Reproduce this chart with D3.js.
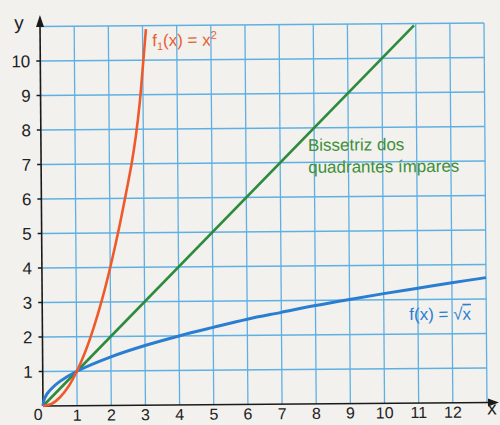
<!DOCTYPE html>
<html><head><meta charset="utf-8">
<script src="https://cdn.jsdelivr.net/npm/d3@7"></script>
<style>html,body{margin:0;padding:0;background:#f2f1ee;} svg{display:block;}</style>
</head><body>
<svg id="c" width="500" height="425"></svg>
<script>
// Data
const xTicks = [0,1,2,3,4,5,6,7,8,9,10,11,12];
const yTicks = [1,2,3,4,5,6,7,8,9,10];
const parabolaX = [0,0.25,0.5,0.75,1,1.25,1.5,1.75,2,2.25,2.5,2.65,2.78,2.9,3.0,3.1];
const parabolaY = [0,0.06,0.25,0.56,1,1.56,2.25,3.06,4,5.06,6.25,7.0,7.8,8.75,9.8,10.9];
const bisectX = [0,10.95];
const bisectY = [0,10.95];
const sqrtX = [0,0.03,0.12,0.25,0.5,1,2,3,4,5,6,7,8,9,10,11,12,13];
const sqrtY = [0,0.17,0.35,0.5,0.71,1,1.41,1.73,2,2.24,2.47,2.66,2.85,3.02,3.18,3.33,3.48,3.62];

const svg = d3.select('#c');
const x = d3.scaleLinear().domain([0,13]).range([43,487]);
const y = d3.scaleLinear().domain([0,11]).range([406,26.5]);
const g = svg.append('g').attr('transform','rotate(-0.45,43,406)');
const font = '"Liberation Sans", Arial, sans-serif';

// grid
const gridC = '#5fb0e2';
const gx = d3.range(1,14), gy = d3.range(1,12);
g.selectAll('.vg').data(gx).enter().append('line')
  .attr('x1',d=>x(d)).attr('x2',d=>x(d)).attr('y1',y(0)).attr('y2',y(11))
  .attr('stroke',gridC).attr('stroke-width',1.3);
g.selectAll('.hg').data(gy).enter().append('line')
  .attr('x1',x(0)).attr('x2',x(13)).attr('y1',d=>y(d)).attr('y2',d=>y(d))
  .attr('stroke',gridC).attr('stroke-width',1.3);

// axes
g.append('line').attr('x1',x(0)).attr('x2',492).attr('y1',y(0)).attr('y2',y(0)).attr('stroke','#1a1a1a').attr('stroke-width',1.6);
g.append('line').attr('x1',x(0)).attr('x2',x(0)).attr('y1',y(0)).attr('y2',22).attr('stroke','#1a1a1a').attr('stroke-width',1.6);
g.append('path').attr('d',`M499,${y(0)} L488,${y(0)-4} L488,${y(0)+4} Z`).attr('fill','#1a1a1a');
g.append('path').attr('d',`M${x(0)},15 L${x(0)-4},27 L${x(0)+4},27 Z`).attr('fill','#1a1a1a');

// ticks
g.selectAll('.yt').data(yTicks).enter().append('line')
  .attr('x1',x(0)-4).attr('x2',x(0)).attr('y1',d=>y(d)).attr('y2',d=>y(d)).attr('stroke','#1a1a1a').attr('stroke-width',1.4);
g.selectAll('.ytl').data(yTicks).enter().append('text')
  .attr('x',33).attr('y',d=>y(d)+6).attr('text-anchor','end')
  .attr('font-family',font).attr('font-size',17).attr('fill','#222').text(d=>d);
g.selectAll('.xtl').data(xTicks).enter().append('text')
  .attr('x',d=>d===0?x(0)-5:x(d)).attr('y',d=>d===0?420:421).attr('text-anchor','middle')
  .attr('font-family',font).attr('font-size',16).attr('fill','#222').text(d=>d);
g.append('text').attr('x',22).attr('y',29).attr('text-anchor','middle').attr('font-family',font).attr('font-size',19).attr('fill','#222').text('y');
g.append('text').attr('x',492).attr('y',418).attr('text-anchor','middle').attr('font-family',font).attr('font-size',19).attr('fill','#222').text('x');

// curves
const line = d3.line().x(d=>x(d[0])).y(d=>y(d[1])).curve(d3.curveCatmullRom);
svg.append('defs').append('clipPath').attr('id','cl').append('rect')
  .attr('x',x(0)-2).attr('y',y(11)).attr('width',x(13)-x(0)+4).attr('height',y(0)-y(11)+2);
const cg = g.append('g').attr('clip-path','url(#cl)');
cg.append('path').datum(bisectX.map((v,i)=>[v,bisectY[i]])).attr('d',line)
  .attr('fill','none').attr('stroke','#2e8a3c').attr('stroke-width',2.6);
cg.append('path').datum(sqrtX.map((v,i)=>[v,sqrtY[i]])).attr('d',line)
  .attr('fill','none').attr('stroke','#2a7ed2').attr('stroke-width',3);
cg.append('path').datum(parabolaX.map((v,i)=>[v,parabolaY[i]])).attr('d',line)
  .attr('fill','none').attr('stroke','#ee5a2c').attr('stroke-width',2.6);

// labels
const t1 = g.append('text').attr('x',155).attr('y',47).attr('font-family',font).attr('font-size',17).attr('fill','#e8602e');
t1.append('tspan').text('f');
t1.append('tspan').attr('font-size',11).attr('dy',4).text('1');
t1.append('tspan').attr('dy',-4).text('(x) = x');
t1.append('tspan').attr('font-size',11).attr('dy',-7).text('2');

g.append('text').attr('x',310).attr('y',153).attr('font-family',font).attr('font-size',17).attr('fill','#3f8f38').text('Bissetriz dos');
g.append('text').attr('x',310).attr('y',175).attr('font-family',font).attr('font-size',17).attr('fill','#3f8f38').text('quadrantes ímpares');

const t3 = g.append('text').attr('x',410).attr('y',323).attr('font-family',font).attr('font-size',17).attr('fill','#2a7ed2');
t3.append('tspan').text('f(x) = √');
t3.append('tspan').attr('text-decoration','overline').text('x');
</script>
</body></html>
